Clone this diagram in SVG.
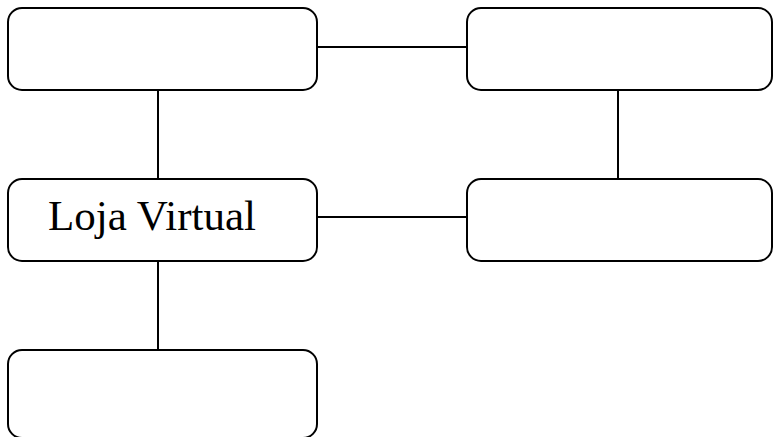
<svg xmlns="http://www.w3.org/2000/svg" width="773" height="437" viewBox="0 0 773 437">
<style>
.box{fill:#fff;stroke:#000;stroke-width:2}
.ln{stroke:#000;stroke-width:2;fill:none}
.lbl{font-family:"Liberation Serif",serif;font-size:43px;fill:#000}
</style>
<rect width="773" height="437" fill="#fff"/>
<g id="connectors">
<line class="ln" x1="158" y1="90" x2="158" y2="179"/>
<line class="ln" x1="317" y1="47" x2="467" y2="47"/>
<line class="ln" x1="618" y1="90" x2="618" y2="179"/>
<line class="ln" x1="317" y1="217" x2="467" y2="217"/>
<line class="ln" x1="158" y1="261" x2="158" y2="350"/>
</g>
<g id="n1"><rect class="box" x="8" y="8" width="309" height="82" rx="14"/></g>
<g id="n2"><rect class="box" x="467" y="8" width="305" height="82" rx="14"/></g>
<g id="n3"><rect class="box" x="8" y="179" width="309" height="82" rx="14"/><text class="lbl" x="48" y="230">Loja Virtual</text></g>
<g id="n4"><rect class="box" x="467" y="179" width="305" height="82" rx="14"/></g>
<g id="n5"><rect class="box" x="8" y="350" width="309" height="88" rx="14"/></g>
</svg>
